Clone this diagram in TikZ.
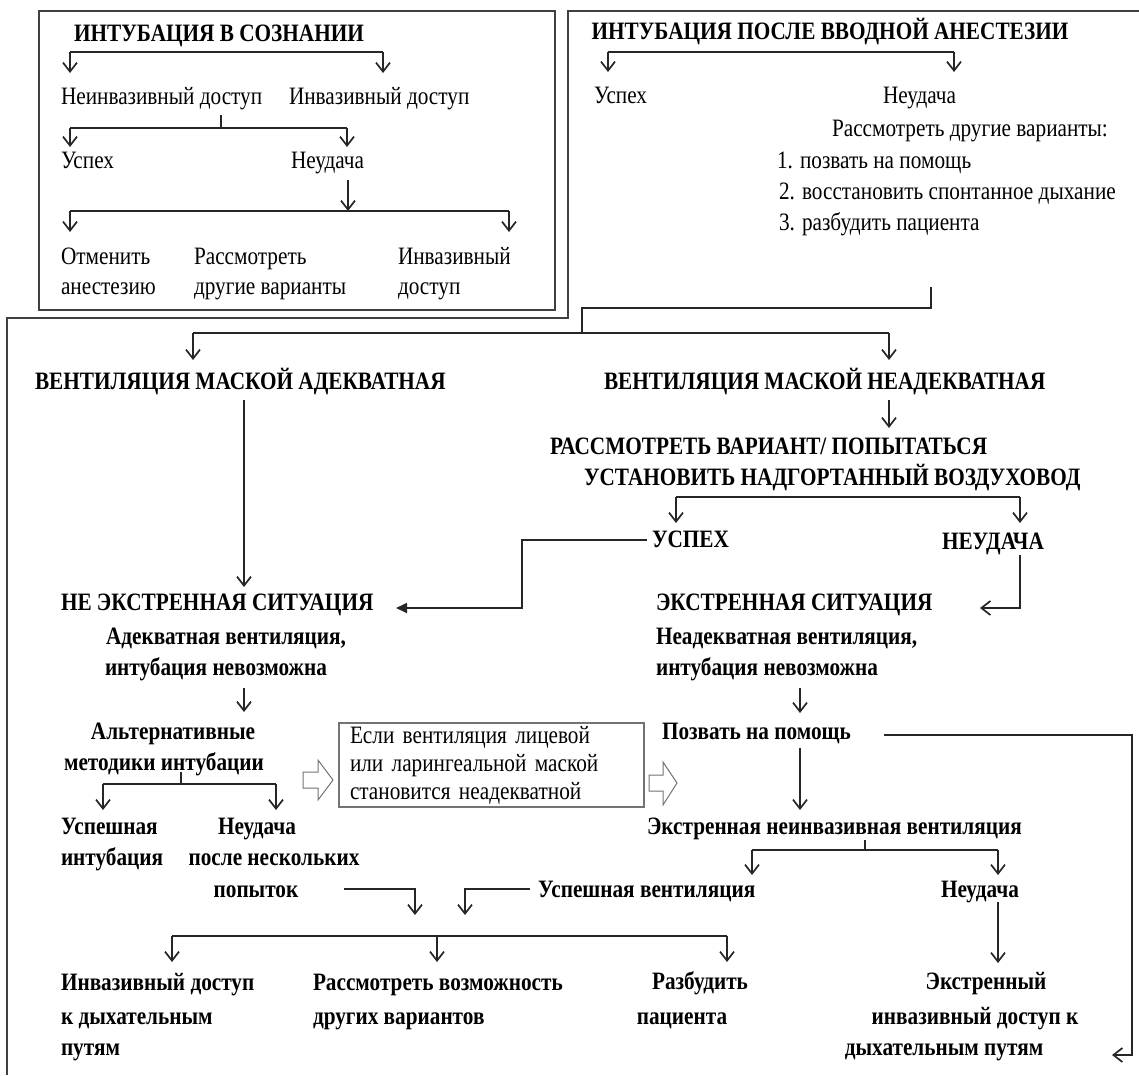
\documentclass[tikz,border=0pt]{standalone}
\usepackage{fontspec}
\setmainfont{Liberation Serif}[FakeStretch=0.85]
\usetikzlibrary{arrows.meta}
\begin{document}
\begin{tikzpicture}[x=1pt,y=-1pt,
  every node/.style={inner sep=0pt, outer sep=0pt},
  reg/.style={font=\fontsize{25}{31}\selectfont},
  bld/.style={font=\bfseries\fontsize{25}{31}\selectfont},
  ln/.style={line width=1.7pt, draw=black!85},
  arr/.style={ln, -{Straight Barb[length=9pt,width=14pt,line width=1.7pt]}},
  farr/.style={ln, -{Triangle[length=11pt,width=10pt]}},
  frame/.style={line width=2pt, draw=black!75},
  hollow/.style={draw=black!55, line width=1pt, fill=white},
  notebox/.style={draw=black!55, line width=1.2pt, minimum width=305pt, minimum height=84pt,
     align=left, inner xsep=11pt, text width=283pt, font=\fontsize{25}{28}\selectfont},
]
\useasboundingbox (0,0) rectangle (1139,1075);
% frames
\draw[frame] (39,11) rectangle (555,310);
\draw[frame] (1139,11) -- (568,11) -- (568,318) -- (7,318) -- (7,1075);

% ---------- top left ----------
\node[bld, anchor=base] (t1) at (219,42) {ИНТУБАЦИЯ В СОЗНАНИИ};
\node[reg, anchor=base west] (ninv) at (61,105) {Неинвазивный доступ};
\node[reg, anchor=base west] (inv) at (289,105) {Инвазивный доступ};
\node[reg, anchor=base west] (usp1) at (61,169) {Успех};
\node[reg, anchor=base west] (neud1) at (291,169) {Неудача};
\node[reg, anchor=base west] (otm) at (61,264) {Отменить};
\node[reg, anchor=base west] (otmb) at (61,294) {анестезию};
\node[reg, anchor=base west] (ras) at (194,264) {Рассмотреть};
\node[reg, anchor=base west] (rasb) at (194,294) {другие варианты};
\node[reg, anchor=base west] (inv2) at (398,264) {Инвазивный};
\node[reg, anchor=base west] (inv2b) at (398,294) {доступ};

\coordinate (b1l) at (70,52); \coordinate (b1r) at (383,52);
\coordinate (ninvIn) at (70,73); \coordinate (invIn) at (383,73);
\draw[ln] (b1l) -- (b1r);
\draw[arr] (b1l) -- (ninvIn);
\draw[arr] (b1r) -- (invIn);
\coordinate (s2) at (221,115); \coordinate (b2m) at (221,128);
\coordinate (b2l) at (70,128); \coordinate (b2r) at (347,128);
\coordinate (usp1In) at (70,147); \coordinate (neud1In) at (347,147);
\draw[ln] (s2) -- (b2m);
\draw[ln] (b2l) -- (b2r);
\draw[arr] (b2l) -- (usp1In);
\draw[arr] (b2r) -- (neud1In);
\coordinate (n1out) at (348,180); \coordinate (b3m) at (348,211);
\coordinate (b3l) at (70,211); \coordinate (b3r) at (509,211);
\coordinate (otmIn) at (70,232); \coordinate (inv2In) at (509,232);
\draw[arr] (n1out) -- (b3m);
\draw[ln] (b3l) -- (b3r);
\draw[arr] (b3l) -- (otmIn);
\draw[arr] (b3r) -- (inv2In);

% ---------- top right ----------
\node[bld, anchor=base] (t2) at (830,40) {ИНТУБАЦИЯ ПОСЛЕ ВВОДНОЙ АНЕСТЕЗИИ};
\node[reg, anchor=base west] (usp2) at (594,104) {Успех};
\node[reg, anchor=base west] (neud2) at (883,104) {Неудача};
\node[reg, anchor=base west] (drug) at (832,137) {Рассмотреть другие варианты:};
\node[reg, anchor=base west] (p1) at (777,169) {1. позвать на помощь};
\node[reg, anchor=base west] (p2) at (779,200) {2. восстановить спонтанное дыхание};
\node[reg, anchor=base west] (p3) at (779,230) {3. разбудить пациента};
\coordinate (b4l) at (608,52); \coordinate (b4r) at (954,52);
\coordinate (usp2In) at (608,72); \coordinate (neud2In) at (954,72);
\draw[ln] (b4l) -- (b4r);
\draw[arr] (b4l) -- (usp2In);
\draw[arr] (b4r) -- (neud2In);

% ---------- lower ----------
\node[bld, anchor=base west] (va) at (35,389) {ВЕНТИЛЯЦИЯ МАСКОЙ АДЕКВАТНАЯ};
\node[bld, anchor=base west] (vn) at (604,389) {ВЕНТИЛЯЦИЯ МАСКОЙ НЕАДЕКВАТНАЯ};
\node[bld, anchor=base west] (rv1) at (550,454) {РАССМОТРЕТЬ ВАРИАНТ/ ПОПЫТАТЬСЯ};
\node[bld, anchor=base west] (rv2) at (584,485) {УСТАНОВИТЬ НАДГОРТАННЫЙ ВОЗДУХОВОД};
\node[bld, anchor=base west] (uspex) at (652,547) {УСПЕХ};
\node[bld, anchor=base west] (neud3) at (942,549) {НЕУДАЧА};
\node[bld, anchor=base west] (nes) at (61,610) {НЕ ЭКСТРЕННАЯ СИТУАЦИЯ};
\node[bld, anchor=base west] (nesb) at (106,644) {Адекватная вентиляция,};
\node[bld, anchor=base west] (nesc) at (105,675) {интубация невозможна};
\node[bld, anchor=base west] (es) at (656,610) {ЭКСТРЕННАЯ СИТУАЦИЯ};
\node[bld, anchor=base west] (esb) at (656,644) {Неадекватная вентиляция,};
\node[bld, anchor=base west] (esc) at (656,675) {интубация невозможна};
\node[bld, anchor=base] (alt) at (173,739) {Альтернативные};
\node[bld, anchor=base] (altb) at (164,770) {методики интубации};
\node[bld, anchor=base west] (us) at (61,834) {Успешная};
\node[bld, anchor=base west] (usb) at (61,865) {интубация};
\node[bld, anchor=base] (nf) at (257,834) {Неудача};
\node[bld, anchor=base] (nfb) at (274,865) {после нескольких};
\node[bld, anchor=base] (nfc) at (256,897) {попыток};
\node[notebox] (box) at (491.5,765) {Если вентиляция лицевой\\или ларингеальной маской\\становится неадекватной};
\node[bld, anchor=base west] (pz) at (662,739) {Позвать на помощь};
\node[bld, anchor=base west] (eniv) at (647,834) {Экстренная неинвазивная вентиляция};
\node[bld, anchor=base west] (uspv) at (538,897) {Успешная вентиляция};
\node[bld, anchor=base west] (neud4) at (941,897) {Неудача};
\node[bld, anchor=base west] (ia) at (61,990) {Инвазивный доступ};
\node[bld, anchor=base west] (iab) at (61,1024) {к дыхательным};
\node[bld, anchor=base west] (iac) at (61,1055) {путям};
\node[bld, anchor=base west] (rvz) at (313,990) {Рассмотреть возможность};
\node[bld, anchor=base west] (rvzb) at (313,1024) {других вариантов};
\node[bld, anchor=base] (rz) at (700,989) {Разбудить};
\node[bld, anchor=base] (rzb) at (682,1024) {пациента};
\node[bld, anchor=base] (ek) at (986,989) {Экстренный};
\node[bld, anchor=base] (ekb) at (975,1024) {инвазивный доступ к};
\node[bld, anchor=base] (ekc) at (944,1055) {дыхательным путям};

% connector from the top right box
\coordinate (tr0) at (931,287); \coordinate (tr1) at (931,308);
\coordinate (tr2) at (582,308); \coordinate (tr3) at (582,333);
\coordinate (b5l) at (193,333); \coordinate (b5r) at (889,333);
\coordinate (vaIn) at (193,360); \coordinate (vnIn) at (889,360);
\draw[ln] (tr0) -- (tr1) -- (tr2) -- (tr3);
\draw[ln] (b5l) -- (b5r);
\draw[arr] (b5l) -- (vaIn);
\draw[arr] (b5r) -- (vnIn);
\coordinate (vnOut) at (889,400); \coordinate (rvIn) at (889,428);
\draw[arr] (vnOut) -- (rvIn);
\coordinate (b6l) at (676,497); \coordinate (b6r) at (1020,497);
\coordinate (uspexIn) at (676,523); \coordinate (neud3In) at (1020,523);
\draw[ln] (b6l) -- (b6r);
\draw[arr] (b6l) -- (uspexIn);
\draw[arr] (b6r) -- (neud3In);
\coordinate (uspexOut) at (647,540); \coordinate (nesIn) at (396,608);
\draw[farr] (uspexOut) -- (522,540) -- (522,608) -- (nesIn);
\coordinate (neud3Out) at (1020,555); \coordinate (esIn) at (980,608);
\draw[arr] (neud3Out) -- (1020,608) -- (esIn);
\coordinate (vaOut) at (244,400); \coordinate (nesTop) at (244,587);
\draw[arr] (vaOut) -- (nesTop);
\coordinate (nescOut) at (244,688); \coordinate (altIn) at (244,712);
\draw[arr] (nescOut) -- (altIn);
\coordinate (s7) at (181,772); \coordinate (b7m) at (181,784);
\coordinate (b7l) at (103,784); \coordinate (b7r) at (276,784);
\coordinate (usIn) at (103,810); \coordinate (nfIn) at (276,810);
\draw[ln] (s7) -- (b7m);
\draw[ln] (b7l) -- (b7r);
\draw[arr] (b7l) -- (usIn);
\draw[arr] (b7r) -- (nfIn);
\coordinate (nfOut) at (344,889); \coordinate (j1) at (415,915);
\draw[arr] (nfOut) -- (415,889) -- (j1);
\coordinate (uspvOut) at (530,889); \coordinate (j2) at (465,915);
\draw[arr] (uspvOut) -- (465,889) -- (j2);
\coordinate (b8l) at (172,936); \coordinate (b8m) at (437,936); \coordinate (b8r) at (727,936);
\coordinate (iaIn) at (172,962); \coordinate (rvzIn) at (437,962); \coordinate (rzIn) at (727,962);
\draw[ln] (b8l) -- (b8r);
\draw[arr] (b8l) -- (iaIn);
\draw[arr] (b8m) -- (rvzIn);
\draw[arr] (b8r) -- (rzIn);
\coordinate (escOut) at (800,688); \coordinate (pzIn) at (800,713);
\draw[arr] (escOut) -- (pzIn);
\coordinate (pzOut) at (884,735); \coordinate (ekIn) at (1112,1055);
\draw[arr] (pzOut) -- (1132,735) -- (1132,1055) -- (ekIn);
\coordinate (pzDown) at (800,748); \coordinate (enivIn) at (800,810);
\draw[arr] (pzDown) -- (enivIn);
\coordinate (s9) at (865,840); \coordinate (b9m) at (865,850);
\coordinate (b9l) at (752,850); \coordinate (b9r) at (998,850);
\coordinate (uspvIn) at (752,875); \coordinate (neud4In) at (998,875);
\draw[ln] (s9) -- (b9m);
\draw[ln] (b9l) -- (b9r);
\draw[arr] (b9l) -- (uspvIn);
\draw[arr] (b9r) -- (neud4In);
\coordinate (neud4Out) at (998,902); \coordinate (ekTop) at (998,963);
\draw[arr] (neud4Out) -- (ekTop);

% hollow arrows
\draw[hollow] (303,772) -- (318,772) -- (318,760) -- (333,780) -- (318,800) -- (318,788) -- (303,788) -- cycle;
\draw[hollow] (649,775) -- (663,775) -- (663,762) -- (677,783) -- (663,805) -- (663,791) -- (649,791) -- cycle;
\end{tikzpicture}
\end{document}
